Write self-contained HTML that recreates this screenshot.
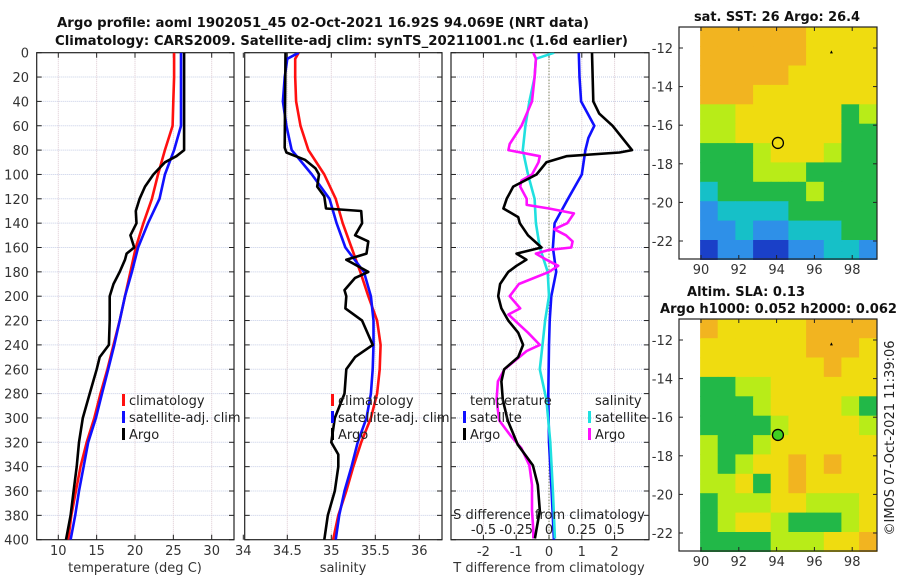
<!DOCTYPE html>
<html><head><meta charset="utf-8">
<style>
html,body{margin:0;padding:0;background:#fff;}
svg{display:block;font-family:"DejaVu Sans","Liberation Sans",sans-serif;}
</style></head>
<body>
<svg id="fig" width="900" height="580" viewBox="0 0 900 580" xmlns="http://www.w3.org/2000/svg"></svg>
<script>
// ---------- DATA ----------
const depthTicks = [0,20,40,60,80,100,120,140,160,180,200,220,240,260,280,300,320,340,360,380,400];
const tempTicks = [10,15,20,25,30];
const salTicks = [34,34.5,35,35.5,36];
const salTickLabels = ["34","34.5","35","35.5","36"];
const tdiffTicks = [-2,-1,0,1,2];
const sdiffTicks = [-0.5,-0.25,0,0.25,0.5];
const sdiffTickLabels = ["-0.5","-0.25","0","0.25","0.5"];

const tClimDepth = [0,20,40,60,80,100,120,140,160,180,200,220,240,260,280,300,320,340,360,380,400];
const tClim = [25.1,25.1,25.0,24.9,23.9,23.0,22.2,21.1,20.1,19.4,18.7,18.0,17.2,16.4,15.5,14.7,13.7,12.9,12.3,11.7,11.3];
const tSat = [26.0,26.0,26.0,26.0,25.1,23.9,23.2,21.7,20.4,19.6,18.7,18.0,17.3,16.5,15.7,14.9,13.9,13.3,12.7,12.2,11.6];
const tArgoDepth = [0,60,80,85,90,100,110,120,130,140,150,160,165,170,180,190,200,220,240,250,260,280,300,320,340,360,380,400];
const tArgo = [26.4,26.4,26.4,25.4,23.9,22.4,21.3,20.6,20.1,20.2,19.4,19.9,18.9,18.7,18.0,17.2,16.7,16.7,16.6,15.4,15.0,14.1,13.2,12.7,12.4,12.0,11.6,11.0];

const sClimDepth = [0,5,20,40,60,80,100,120,140,160,180,200,220,240,260,280,300,320,340,360,380,400];
const sClim = [34.63,34.59,34.59,34.60,34.65,34.74,34.92,35.05,35.13,35.23,35.33,35.42,35.52,35.56,35.55,35.52,35.45,35.34,35.25,35.17,35.08,35.02];
const sSat = [34.63,34.50,34.47,34.45,34.49,34.55,34.78,34.98,35.06,35.16,35.37,35.45,35.48,35.48,35.47,35.45,35.40,35.30,35.23,35.15,35.09,35.05];
const sArgoDepth = [0,78,82,88,95,100,110,118,128,130,140,150,155,165,170,180,185,195,200,210,220,240,250,260,280,300,320,330,340,360,380,400];
const sArgo = [34.48,34.47,34.49,34.70,34.82,34.86,34.84,34.92,34.94,35.34,35.35,35.27,35.42,35.40,35.17,35.42,35.27,35.15,35.17,35.16,35.35,35.47,35.27,35.17,35.15,35.04,35.00,35.08,35.08,35.04,34.96,34.92];

const tdSatDepth = [0,20,40,60,70,80,100,120,140,160,180,200,220,240,280,320,360,400];
const tdSat = [0.91,0.93,0.98,1.38,1.20,1.11,1.00,0.58,0.17,0.12,0.22,0.07,0.02,0.00,-0.02,0.00,0.08,0.15];
const tdArgoDepth = [0,40,50,60,80,82,85,90,100,110,115,120,128,135,140,150,160,165,170,175,180,190,200,210,220,230,240,250,260,270,285,302,322,339,355,376,399];
const tdArgo = [1.31,1.35,1.53,1.94,2.53,2.15,0.53,-0.08,-0.38,-1.09,-1.19,-1.29,-1.39,-0.94,-0.89,-0.64,-0.23,-0.99,-0.69,-0.99,-1.24,-1.49,-1.55,-1.45,-1.24,-0.94,-0.79,-0.94,-1.37,-1.45,-1.41,-1.26,-0.95,-0.49,-0.34,-0.28,-0.43];
const sdSatDepth = [0,5,20,40,60,80,100,120,140,160,180,200,220,240,260,285,320,360,399];
const sdSat = [0.04,-0.10,-0.11,-0.15,-0.18,-0.20,-0.16,-0.11,-0.10,-0.07,-0.01,0.00,-0.03,-0.05,-0.07,-0.02,0.01,0.03,0.045];
const sdArgoDepth = [0,5,20,40,60,75,80,85,90,100,105,110,120,125,128,132,140,145,150,155,160,162,165,170,175,180,190,200,210,215,220,230,240,245,260,270,285,302,315,325,339,355,376,392,399];
const sdArgo = [-0.12,-0.10,-0.11,-0.13,-0.21,-0.30,-0.31,-0.07,-0.08,-0.13,-0.21,-0.22,-0.17,-0.17,0.00,0.19,0.14,0.04,0.13,0.18,0.17,0.00,-0.10,-0.02,0.07,0.00,-0.23,-0.30,-0.22,-0.31,-0.26,-0.16,-0.07,-0.17,-0.34,-0.39,-0.40,-0.38,-0.29,-0.21,-0.15,-0.13,-0.13,-0.12,-0.12];

const lonTicks = [90,92,94,96,98];
const latTicks = [-12,-14,-16,-18,-20,-22];
// map grid category values (0 dark blue .. 6 orange), rows north->south, 10 columns
const sstGrid = [
 [6,6,6,6,6,6,5,5,5,5],[6,6,6,6,6,6,5,5,5,5],[6,6,6,6,6,5,5,5,5,5],[6,6,6,5,5,5,5,5,5,5],
 [4,4,5,5,5,5,5,5,3,4],[4,4,5,5,5,5,5,5,3,3],[3,3,3,4,5,5,5,4,3,3],[3,3,3,4,4,4,3,3,3,3],
 [2,3,3,3,3,3,4,3,3,3],[1,2,2,2,2,3,3,3,3,3],[1,1,2,1,1,2,2,2,3,3],[0,1,1,0,0,1,1,2,2,1]];
const slaGrid = [
 [6,5,5,5,5,5,6,6,6,6],[5,5,5,5,5,5,6,6,6,5],[5,5,5,5,5,5,5,6,5,5],[3,3,4,4,5,5,5,5,5,5],
 [3,3,3,4,5,5,5,5,4,3],[3,3,3,3,4,5,5,5,5,4],[4,3,3,4,5,5,5,5,5,5],[4,3,4,5,5,6,5,6,5,5],
 [4,4,5,3,5,6,5,5,5,5],[3,4,4,4,5,5,4,4,4,5],[3,4,5,5,4,3,3,3,4,5],[3,3,3,3,4,4,4,5,5,6]];
const argoLon = 94.07, argoLat = -16.92;
const markLon = 96.9, markLat = -12.2;

// ---------- HELPERS ----------
const NS = "http://www.w3.org/2000/svg";
const svg = document.getElementById("fig");
function mk(tag, attrs, parent){ const e=document.createElementNS(NS,tag); for(const k in attrs) e.setAttribute(k,attrs[k]); (parent||svg).appendChild(e); return e; }
function txt(s, attrs, parent){ const e=mk("text",attrs,parent); e.textContent=s; return e; }

const Y0=52.7, Y1=539.7;
const yD = d => Y0 + d*(Y1-Y0)/400;
const P1={x0:36.7,x1:234}, P2={x0:244.7,x1:442}, P3={x0:451,x1:649};
const xT = t => 58.3 + (t-10)*7.67;
const xS = s => 287.3 + (s-34.5)*88;
const xTd = t => 549 + t*32.8;
const xSd = s => 549 + s*131;

function panelFrame(P, name, vTicksX){
  const g=mk("g",{});
  
  
  depthTicks.forEach(d=>{ if(d>0&&d<400){ const l=mk("line",{x1:P.x0,x2:P.x1,y1:yD(d),y2:yD(d),stroke:"#c5cde6","stroke-width":1,"stroke-dasharray":"1,1"},g);
    
     }});
  vTicksX.forEach(x=>{ if(x>P.x0+1&&x<P.x1-1){ const l=mk("line",{x1:x,x2:x,y1:Y0,y2:Y1,stroke:"#dcc8d0","stroke-width":1,"stroke-dasharray":"1,1"},g);
    
     }});
  depthTicks.forEach(d=>{ const y=yD(d);
    mk("line",{x1:P.x0,x2:P.x0+5,y1:y,y2:y,stroke:"#222"},g); mk("line",{x1:P.x1-5,x2:P.x1,y1:y,y2:y,stroke:"#222"},g);});
  vTicksX.forEach(x=>{ mk("line",{x1:x,x2:x,y1:Y0,y2:Y0+5,stroke:"#222"},g); mk("line",{x1:x,x2:x,y1:Y1-5,y2:Y1,stroke:"#222"},g);});
  const r=mk("rect",{x:P.x0,y:Y0,width:P.x1-P.x0,height:Y1-Y0,fill:"none",stroke:"#222","stroke-width":1.2},g);
  
  
  return g;
}
function series(depths, vals, xf, color, name, P){
  const pts = depths.map((d,i)=>xf(vals[i]).toFixed(1)+","+yD(d).toFixed(1)).join(" ");
  const cp = "clip-"+name;
  const c=mk("clipPath",{id:cp}); mk("rect",{x:P.x0,y:Y0,width:P.x1-P.x0,height:Y1-Y0},c);
  const l=mk("polyline",{points:pts,fill:"none",stroke:color,"stroke-width":2.6,"stroke-linejoin":"round","clip-path":"url(#"+cp+")"});
  
  
}
function legendEntry(x, y, color, label, name){
  const b=mk("rect",{x:x,y:y-11,width:3,height:12,fill:color});
  
  
  const t=txt(label,{x:x+7,y:y,"font-size":13,fill:"#222"});
  
  
}

// ---------- TITLES ----------
let t1=txt("Argo profile: aoml 1902051_45 02-Oct-2021 16.92S 94.069E (NRT data)",{x:57,y:27,"font-size":13,"font-weight":"bold",textLength:532,lengthAdjust:"spacingAndGlyphs",fill:"#111"});


let t2=txt("Climatology: CARS2009. Satellite-adj clim: synTS_20211001.nc (1.6d earlier)",{x:55,y:45,"font-size":13,"font-weight":"bold",textLength:573,lengthAdjust:"spacingAndGlyphs",fill:"#111"});



// ---------- PANEL 1 ----------
panelFrame(P1,'temperature-panel',tempTicks.map(xT));
depthTicks.forEach(d=>{ const e=txt(String(d),{x:29,y:yD(d)+5,"font-size":13,"text-anchor":"end",fill:"#333"});
  
   });
tempTicks.forEach(v=>{ const e=txt(String(v),{x:xT(v),y:555,"font-size":13,"text-anchor":"middle",fill:"#333"});
  
   });
let xa1=txt("temperature (deg C)",{x:135,y:572,"font-size":13,"text-anchor":"middle",fill:"#333"});


series(tClimDepth,tClim,xT,"#ff1010","temp-climatology-line",P1);
series(tClimDepth,tSat,xT,"#1010ff","temp-satellite-line",P1);
series(tArgoDepth,tArgo,xT,"#000","temp-argo-line",P1);
legendEntry(122,405,"#ff1010","climatology","p1-legend-climatology");
legendEntry(122,422,"#1010ff","satellite-adj. clim","p1-legend-satellite");
legendEntry(122,439,"#000","Argo","p1-legend-argo");

// ---------- PANEL 2 ----------
panelFrame(P2,'salinity-panel',salTicks.map(xS));
salTicks.forEach((v,i)=>{ const e=txt(salTickLabels[i],{x:xS(v),y:555,"font-size":13,"text-anchor":"middle",fill:"#333"});
  
   });
let xa2=txt("salinity",{x:343,y:572,"font-size":13,"text-anchor":"middle",fill:"#333"});


series(sClimDepth,sClim,xS,"#ff1010","sal-climatology-line",P2);
series(sClimDepth,sSat,xS,"#1010ff","sal-satellite-line",P2);
series(sArgoDepth,sArgo,xS,"#000","sal-argo-line",P2);
legendEntry(331,405,"#ff1010","climatology","p2-legend-climatology");
legendEntry(331,422,"#1010ff","satellite-adj. clim","p2-legend-satellite");
legendEntry(331,439,"#000","Argo","p2-legend-argo");

// ---------- PANEL 3 ----------
panelFrame(P3,'difference-panel',tdiffTicks.map(xTd));
let zl=mk("line",{x1:xTd(0),x2:xTd(0),y1:Y0,y2:Y1,stroke:"#556633","stroke-width":1,"stroke-dasharray":"1,2"});


series(tdSatDepth,tdSat,xTd,"#1010ff","tdiff-satellite-line",P3);
series(sdSatDepth,sdSat,xSd,"#20e0e0","sdiff-satellite-line",P3);
series(sdArgoDepth,sdArgo,xSd,"#ff10ff","sdiff-argo-line",P3);
series(tdArgoDepth,tdArgo,xTd,"#000","tdiff-argo-line",P3);
tdiffTicks.forEach(v=>{ const e=txt(String(v),{x:xTd(v),y:556,"font-size":13,"text-anchor":"middle",fill:"#333"});
  
   });
sdiffTicks.forEach((v,i)=>{ const e=txt(sdiffTickLabels[i],{x:xSd(v),y:534,"font-size":13,"text-anchor":"middle",fill:"#222"});
  
   });
let sa=txt("S difference from climatology",{x:549,y:519,"font-size":13,"text-anchor":"middle",fill:"#222"});


let ta=txt("T difference from climatology",{x:549,y:572,"font-size":13,"text-anchor":"middle",fill:"#333"});


let lh1=txt("temperature",{x:470,y:405,"font-size":13,fill:"#222"});


let lh2=txt("salinity",{x:595,y:405,"font-size":13,fill:"#222"});


legendEntry(463,422,"#1010ff","satellite","p3-legend-t-satellite");
legendEntry(463,439,"#000","Argo","p3-legend-t-argo");
legendEntry(588,422,"#20e0e0","satellite","p3-legend-s-satellite");
legendEntry(588,439,"#ff10ff","Argo","p3-legend-s-argo");

// ---------- MAPS ----------
const palette = ["#1a40c8","#2e90e8","#16c0c8","#22b848","#b8ec18","#efdc10","#f2b420"];
const MX0=679, MX1=877, IMX0=701;
const lonX = lon => IMX0 + (lon-90)*18.9;
function drawMap(grid, top, name, circFill){
  const g=mk("g",{});
  
  
  const latY = lat => top + 21 + (-12-lat)*19.3;
  const lon0=89.95, lon1=99.3, lat0=-10.9, lat1=-22.95;
  const cw=(lon1-lon0)/grid[0].length, ch=(lat0-lat1)/grid.length;
  grid.forEach((row,r)=>row.forEach((v,c)=>{
    const xa=lonX(lon0+c*cw), xb=lonX(lon0+(c+1)*cw), ya=latY(lat0-r*ch), yb=latY(lat0-(r+1)*ch);
    const cell=mk("rect",{x:xa.toFixed(1),y:ya.toFixed(1),width:(xb-xa+0.6).toFixed(1),height:(yb-ya+0.6).toFixed(1),fill:palette[v]},g);
    
    
  }));
  const bottom = top+232;
  lonTicks.forEach(lon=>{ const x=lonX(lon);
    mk("line",{x1:x,x2:x,y1:top,y2:top+4,stroke:"#222"},g); mk("line",{x1:x,x2:x,y1:bottom-4,y2:bottom,stroke:"#222"},g);
    const e=txt(String(lon),{x:x,y:bottom+15,"font-size":13,"text-anchor":"middle",fill:"#333"},g);
    
     });
  latTicks.forEach(lat=>{ const y=latY(lat);
    mk("line",{x1:MX0,x2:MX0+4,y1:y,y2:y,stroke:"#222"},g); mk("line",{x1:MX1-4,x2:MX1,y1:y,y2:y,stroke:"#222"},g);
    const e=txt(String(lat),{x:673,y:y+5,"font-size":13,"text-anchor":"end",fill:"#333"},g);
    
     });
  const box=mk("rect",{x:MX0,y:top,width:MX1-MX0,height:bottom-top,fill:"none",stroke:"#222","stroke-width":1.2},g);
  
  
  const c=mk("circle",{cx:lonX(argoLon),cy:latY(argoLat),r:5.5,fill:circFill,stroke:"#000","stroke-width":1.3},g);
  
  
  const mx=lonX(markLon), my=latY(markLat);
  const tri=mk("polygon",{points:`${mx-1.5},${my+1.5} ${mx+1.5},${my+1.5} ${mx},${my-1.5}`,fill:"#000"},g);
  
  
}
drawMap(sstGrid,27,'sst-map','none');
drawMap(slaGrid,319,'sla-map','#40d020');
let m1=txt("sat. SST: 26 Argo: 26.4",{x:777,y:21,"font-size":13,"font-weight":"bold","text-anchor":"middle",textLength:166,lengthAdjust:"spacingAndGlyphs",fill:"#111"});


let m2=txt("Altim. SLA: 0.13",{x:687,y:296,"font-size":13,"font-weight":"bold",textLength:118,lengthAdjust:"spacingAndGlyphs",fill:"#111"});


let m3=txt("Argo h1000: 0.052 h2000: 0.062",{x:660,y:313,"font-size":13,"font-weight":"bold",textLength:237,lengthAdjust:"spacingAndGlyphs",fill:"#111"});


let cr=txt("©IMOS 07-Oct-2021 11:39:06",{x:0,y:0,"font-size":13,"text-anchor":"middle",fill:"#222",transform:"translate(894,438) rotate(-90)"});


</script>
</body></html>
